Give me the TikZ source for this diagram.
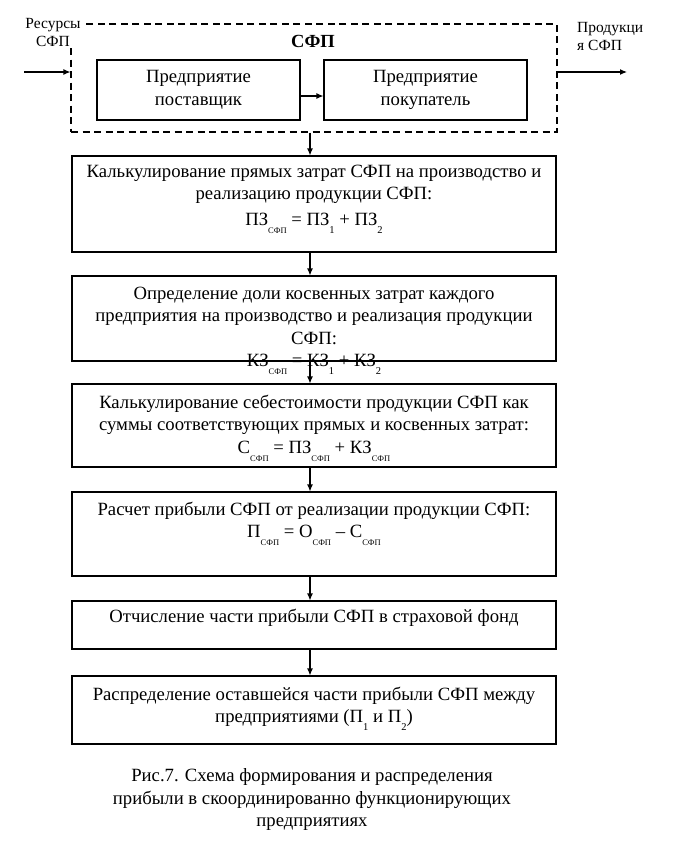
\documentclass[tikz,border=0pt]{standalone}
\usepackage{fontspec}
\setmainfont{Liberation Serif}
\usetikzlibrary{arrows.meta}
\newcommand{\sbc}[1]{\raisebox{-8pt}{\fontsize{8.5}{8.5}\selectfont #1}}
\newcommand{\sbd}[1]{\raisebox{-8pt}{\fontsize{10.5}{10.5}\selectfont #1}}
\begin{document}
\begin{tikzpicture}[x=1pt,y=-1pt,
  box/.style={draw, line width=1.1pt, inner sep=0pt, minimum width=484pt},
  ibox/.style={draw, line width=1.1pt, inner sep=0pt, minimum width=203pt, minimum height=60pt, align=center, font=\fontsize{18.7}{23}\selectfont},
  txt/.style={align=center, inner sep=0pt, font=\fontsize{18.7}{22.5}\selectfont, anchor=north},
  lbl/.style={inner sep=0pt, font=\fontsize{15.5}{18}\selectfont},
  arr/.style={-{Latex[length=7pt,width=6pt]}, line width=1.1pt}]
\useasboundingbox (0,0) rectangle (687,841);
% top dashed system
\node[draw, dash pattern=on 7pt off 4.5pt, line width=1.1pt, minimum width=486pt, minimum height=108pt, inner sep=0pt] (sfp) at (314,78) {};
\node[inner sep=0pt, font=\bfseries\fontsize{18.5}{20}\selectfont] (sfpl) at (313,41) {СФП};
\node[ibox] (pa) at (198.5,90) {Предприятие\\поставщик};
\node[ibox] (pb) at (425.5,90) {Предприятие\\покупатель};
\node[lbl, align=center, fill=white, inner sep=1.5pt] (res) at (53,32) {Ресурсы\\СФП};
\node[lbl, align=left, anchor=west] (prod) at (577,36) {Продукци\\я СФП};
\coordinate (inL) at (24,72);
\coordinate (outR) at (627,72);
\draw[arr] (inL) -- (inL -| sfp.west);
\draw[arr] (outR -| sfp.east) -- (outR);
\draw[arr] ([yshift=-6pt]pa.east) -- ([yshift=-6pt]pb.west);
% boxes
\node[box, minimum height=96pt] (b1) at (314,204) {};
\node[box, minimum height=85pt] (b2) at (314,318.5) {};
\node[box, minimum height=83pt] (b3) at (314,425.5) {};
\node[box, minimum height=84pt] (b4) at (314,534) {};
\node[box, minimum height=48pt] (b5) at (314,625) {};
\node[box, minimum height=68pt] (b6) at (314,710) {};
% texts
\node[txt] (t1) at (314,164.5) {Калькулирование прямых затрат СФП на производство и\\реализацию продукции СФП:\\[3pt]ПЗ\sbc{СФП} = ПЗ\sbd{1} + ПЗ\sbd{2}};
\node[txt] (t2) at (314,286.5) {Определение доли косвенных затрат каждого\\предприятия на производство и реализация продукции\\СФП:\\КЗ\sbc{СФП} = КЗ\sbd{1} + КЗ\sbd{2}};
\node[txt] (t3) at (314,394.5) {Калькулирование себестоимости продукции СФП как\\суммы соответствующих прямых и косвенных затрат:\\С\sbc{СФП} = ПЗ\sbc{СФП} + КЗ\sbc{СФП}};
\node[txt] (t4) at (314,501.5) {Расчет прибыли СФП от реализации продукции СФП:\\П\sbc{СФП} = О\sbc{СФП} -- С\sbc{СФП}};
\node[txt] (t5) at (314,608.5) {Отчисление части прибыли СФП в страховой фонд};
\node[txt] (t6) at (314,686.5) {Распределение оставшейся части прибыли СФП между\\предприятиями (П\sbd{1} и П\sbd{2})};
\node[txt] (cap) at (312,768.5) {Рис.7. Схема формирования и распределения\\прибыли в скоординированно функционирующих\\предприятиях};
% connectors
\coordinate (ax) at (310,0);
\draw[arr] (sfp.south -| ax) -- (b1.north -| ax);
\draw[arr] (b1.south -| ax) -- (b2.north -| ax);
\draw[arr] (b2.south -| ax) -- (b3.north -| ax);
\draw[arr] (b3.south -| ax) -- (b4.north -| ax);
\draw[arr] (b4.south -| ax) -- (b5.north -| ax);
\draw[arr] (b5.south -| ax) -- (b6.north -| ax);
\end{tikzpicture}
\end{document}
